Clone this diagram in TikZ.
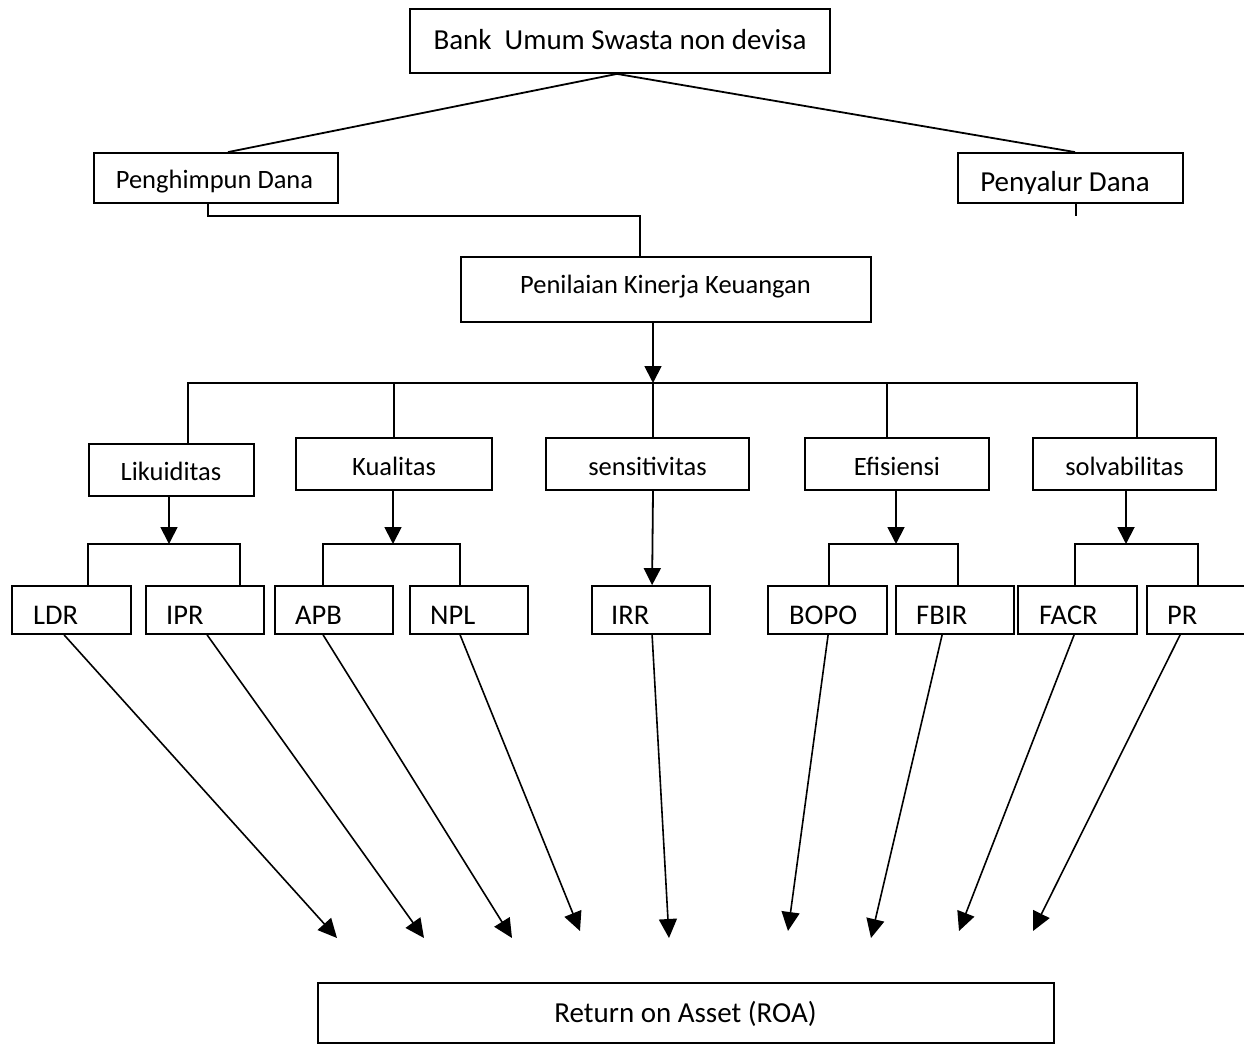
\documentclass[tikz,border=0pt]{standalone}
\usepackage{fontspec}
\setmainfont{Carlito}
\usetikzlibrary{arrows.meta,calc}
\begin{document}
\begin{tikzpicture}[x=1pt,y=-1pt,
  box/.style={draw, line width=1.8pt, rectangle, inner sep=0pt},
  lbl/.style={inner sep=0pt, font=\fontsize{26.5pt}{30pt}\selectfont},
  big/.style={inner sep=0pt, font=\fontsize{29pt}{32pt}\selectfont},
  mid/.style={inner sep=0pt, font=\fontsize{28.5pt}{32pt}\selectfont},
  ln/.style={line width=1.8pt},
  arr/.style={line width=1.8pt, -{Triangle[length=17pt,width=17pt]}},
  farr/.style={line width=1.6pt, -{Triangle[length=19pt,width=18pt]}}]
\useasboundingbox (0,0) rectangle (1244,1044);

% top level
\node[box, minimum width=420pt, minimum height=64pt] (bank) at (620,41) {};
\node[big, anchor=base] (bankt) at (620,49) {Bank\ \ Umum Swasta non devisa};

\node[box, minimum width=244pt, minimum height=50pt] (peng) at (216,178) {};
\node[lbl, anchor=base] (pengt) at (214.5,188) {Penghimpun Dana};

\node[box, minimum width=225pt, minimum height=50pt] (peny) at (1070.5,178) {};
\begin{scope}
  \clip (950,150) rectangle (1190,193);
  \node[big, anchor=base] (penyt) at (1065,191) {Penyalur Dana};
\end{scope}

\node[box, minimum width=410pt, minimum height=65pt] (pen) at (666,289.5) {};
\node[lbl, anchor=base] (pent) at (665.5,293) {Penilaian Kinerja Keuangan};

% second level
\node[box, minimum width=165pt, minimum height=52pt] (lik) at (171.5,470) {};
\node[lbl, anchor=base] (likt) at (171,480) {Likuiditas};
\node[box, minimum width=196pt, minimum height=52pt] (kua) at (394,464) {};
\node[lbl, anchor=base] (kuat) at (394,475) {Kualitas};
\node[box, minimum width=203pt, minimum height=52pt] (sen) at (647.5,464) {};
\node[lbl, anchor=base] (sent) at (647.5,475) {sensitivitas};
\node[box, minimum width=184pt, minimum height=52pt] (efi) at (897,464) {};
\node[lbl, anchor=base] (efit) at (897,475) {Efisiensi};
\node[box, minimum width=183pt, minimum height=52pt] (sol) at (1124.5,464) {};
\node[lbl, anchor=base] (solt) at (1124.5,475) {solvabilitas};

% third level
\node[box, minimum width=119pt, minimum height=48pt] (ldr) at (71.5,610) {};
\node[mid, anchor=base west] (ldrt) at (33,624) {LDR};
\node[box, minimum width=118pt, minimum height=48pt] (ipr) at (205,610) {};
\node[mid, anchor=base west] (iprt) at (166,624) {IPR};
\node[box, minimum width=118pt, minimum height=48pt] (apb) at (334,610) {};
\node[mid, anchor=base west] (apbt) at (295,624) {APB};
\node[box, minimum width=118pt, minimum height=48pt] (npl) at (469,610) {};
\node[mid, anchor=base west] (nplt) at (430,624) {NPL};
\node[box, minimum width=118pt, minimum height=48pt] (irr) at (651,610) {};
\node[mid, anchor=base west] (irrt) at (611,624) {IRR};
\node[box, minimum width=119pt, minimum height=48pt] (bopo) at (827.5,610) {};
\begin{scope}
  \clip (770,590) rectangle (885,625);
  \node[mid, anchor=base west] (bopot) at (789,624) {BOPO};
\end{scope}
\node[box, minimum width=118pt, minimum height=48pt] (fbir) at (955,610) {};
\node[mid, anchor=base west] (fbirt) at (916,624) {FBIR};
\node[box, minimum width=119pt, minimum height=48pt] (facr) at (1077.5,610) {};
\node[mid, anchor=base west] (facrt) at (1039,624) {FACR};
\node[box, minimum width=119pt, minimum height=48pt] (pr) at (1206.5,610) {};
\node[mid, anchor=base west] (prt) at (1167,624) {PR};

% result
\node[box, minimum width=736pt, minimum height=60pt] (roa) at (686,1013) {};
\node[big, anchor=base] (roat) at (685.5,1022) {Return on Asset (ROA)};

% top connectors
\draw[ln] ($(bank.south)+(-3,0)$) -- ($(peng.north)+(12,0)$);
\draw[ln] ($(bank.south)+(-3,0)$) -- ($(peny.north)+(4.5,0)$);
\coordinate (tick) at (1076,216);
\draw[ln] ($(peny.south)+(5.5,0)$) -- (tick);
\coordinate (elb) at (640,216);
\draw[ln] ($(peng.south)+(-8,0)$) |- (elb) -- ($(pen.north)+(-26,0)$);

% bus
\coordinate (bus) at (653,383);
\draw[arr] ($(pen.south)+(-13,0)$) -- (bus);
\draw[ln] ($(lik.north)+(16.5,0)$) |- (bus) -| ($(sol.north)+(12.5,0)$);
\draw[ln] (kua.north) |- (bus);
\draw[ln] ($(sen.north)+(5.5,0)$) -- (bus);
\draw[ln] ($(efi.north)+(-10,0)$) |- (bus);

% brackets
\coordinate (jL) at (169,544);
\draw[arr] ($(lik.south)+(-2.5,0)$) -- (jL);
\draw[ln] ($(ldr.north west)+(77,0)$) |- (jL) -| ($(ipr.north west)+(95,0)$);
\coordinate (jK) at (393,544);
\draw[arr] ($(kua.south)+(-1,0)$) -- (jK);
\draw[ln] ($(apb.north west)+(49,0)$) |- (jK) -| ($(npl.north west)+(51,0)$);
\draw[arr] ($(sen.south)+(5.5,0)$) -- ($(irr.north west)+(61,0)$);
\coordinate (jE) at (896,544);
\draw[arr] ($(efi.south)+(-1,0)$) -- (jE);
\draw[ln] ($(bopo.north west)+(62,0)$) |- (jE) -| ($(fbir.north west)+(63,0)$);
\coordinate (jS) at (1126,544);
\draw[arr] ($(sol.south)+(1.5,0)$) -- (jS);
\draw[ln] ($(facr.north west)+(58,0)$) |- (jS) -| ($(pr.north west)+(52,0)$);

% arrows to ROA
\coordinate (t1) at (337,938);
\coordinate (t2) at (424,938);
\coordinate (t3) at (512,938);
\coordinate (t4) at (580,931);
\coordinate (t5) at (669,938);
\coordinate (t6) at (788,931);
\coordinate (t7) at (871,938);
\coordinate (t8) at (959,931);
\coordinate (t9) at (1033,931);
\draw[farr] ($(ldr.south west)+(53,0)$) -- (t1);
\draw[farr] ($(ipr.south west)+(62,0)$) -- (t2);
\draw[farr] ($(apb.south west)+(49,0)$) -- (t3);
\draw[farr] ($(npl.south west)+(51,0)$) -- (t4);
\draw[farr] ($(irr.south west)+(61,0)$) -- (t5);
\draw[farr] ($(bopo.south west)+(61,0)$) -- (t6);
\draw[farr] ($(fbir.south west)+(47,0)$) -- (t7);
\draw[farr] ($(facr.south west)+(57,0)$) -- (t8);
\draw[farr] ($(pr.south west)+(34,0)$) -- (t9);
\end{tikzpicture}
\end{document}
